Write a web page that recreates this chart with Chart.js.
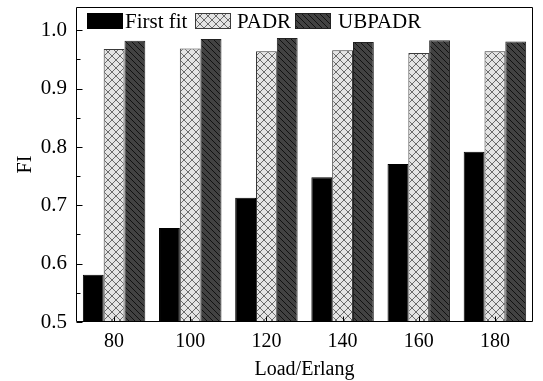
<!DOCTYPE html>
<html>
<head>
<meta charset="utf-8">
<script src="https://cdn.jsdelivr.net/npm/chart.js@4.4.0/dist/chart.umd.min.js"></script>
<style>
  body { margin: 0; background: #fff; }
  #wrap { width: 543px; height: 381px; position: relative; }
</style>
</head>
<body>
<div id="wrap"><canvas id="myChart"></canvas></div>
<script>
// data
const loads = ["80", "100", "120", "140", "160", "180"];
const firstFit = [0.581, 0.661, 0.713, 0.748, 0.771, 0.792];
const padr = [0.968, 0.969, 0.964, 0.966, 0.961, 0.964];
const ubpadr = [0.982, 0.985, 0.987, 0.980, 0.983, 0.981];
const yTicks = [0.5, 0.6, 0.7, 0.8, 0.9, 1.0];

const serif = "'Liberation Serif', 'Times New Roman', serif";

// hatch patterns
const makePattern = (size, draw) => {
  const c = document.createElement("canvas");
  c.width = size;
  c.height = size;
  const g = c.getContext("2d");
  draw(g, size);
  return g.createPattern(c, "repeat");
};

const crossHatch = makePattern(8, (g, s) => {
  g.fillStyle = "#e4e4e4";
  g.fillRect(0, 0, s, s);
  g.strokeStyle = "#4a4a4a";
  g.lineWidth = 0.8;
  g.beginPath();
  g.moveTo(-1, -1); g.lineTo(s + 1, s + 1);
  g.moveTo(-1, s + 1); g.lineTo(s + 1, -1);
  g.stroke();
});

const backHatch = makePattern(6, (g, s) => {
  g.fillStyle = "#424242";
  g.fillRect(0, 0, s, s);
  g.strokeStyle = "#111";
  g.lineWidth = 1;
  g.beginPath();
  g.moveTo(-1, -1); g.lineTo(s + 1, s + 1);
  g.moveTo(-1, s - 1); g.lineTo(1, s + 1);
  g.moveTo(s - 1, -1); g.lineTo(s + 1, 1);
  g.stroke();
});

// legend layout inside the plot (box x, text x)
const legendBoxX = [87, 195, 295];
const legendTextX = [125, 237, 338];

// frame, inward ticks and legend drawn over the plot
const framePlugin = {
  id: "frame",
  afterDatasetsDraw(chart) {
    const { ctx, chartArea: a, scales } = chart;
    ctx.save();
    ctx.strokeStyle = "#000";
    ctx.lineWidth = 1;
    ctx.beginPath();
    const L = Math.round(a.left) + 0.5, R = Math.round(a.right) - 0.5;
    const T = Math.round(a.top) + 0.5, B = Math.round(a.bottom) - 0.5;
    ctx.rect(L, T, R - L, B - T);
    // y ticks, major and minor
    for (let v = 0.5; v <= 1.04; v += 0.05) {
      const y = Math.round(scales.y.getPixelForValue(v)) + 0.5;
      const major = Math.abs(v * 10 - Math.round(v * 10)) < 0.01;
      ctx.moveTo(L, y);
      ctx.lineTo(L + (major ? 6 : 4), y);
    }
    // x ticks
    loads.forEach((_, i) => {
      const x = Math.round(scales.x.getPixelForValue(i)) + 0.5;
      ctx.moveTo(x, B);
      ctx.lineTo(x, B - 5);
    });
    ctx.stroke();

    // legend
    ctx.font = "21px " + serif;
    ctx.textBaseline = "middle";
    chart.data.datasets.forEach((ds, i) => {
      const bx = legendBoxX[i];
      ctx.fillStyle = ds.backgroundColor;
      ctx.fillRect(bx, 13, 36, 16);
      ctx.strokeStyle = ds.borderColor;
      ctx.strokeRect(bx + 0.5, 13.5, 35, 15);
      ctx.fillStyle = "#000";
      ctx.fillText(ds.label, legendTextX[i], 22);
    });
    ctx.restore();
  },
};

const ctx = document.getElementById("myChart");

new Chart(ctx, {
  type: "bar",
  data: {
    labels: loads,
    datasets: [
      {
        label: "First fit",
        data: firstFit,
        backgroundColor: "#000",
        borderColor: "#000",
        borderWidth: 1,
      },
      {
        label: "PADR",
        data: padr,
        backgroundColor: crossHatch,
        borderColor: "#3a3a3a",
        borderWidth: 1,
      },
      {
        label: "UBPADR",
        data: ubpadr,
        backgroundColor: backHatch,
        borderColor: "#222",
        borderWidth: 1,
      },
    ],
  },
  options: {
    responsive: true,
    maintainAspectRatio: false,
    animation: false,
    events: [],
    layout: { padding: { left: 0, top: 7, right: 10, bottom: 0 } },
    datasets: {
      bar: { categoryPercentage: 0.82, barPercentage: 1 },
    },
    plugins: {
      legend: { display: false },
      tooltip: { enabled: false },
    },
    scales: {
      x: {
        grid: { display: false, drawTicks: false },
        border: { display: false },
        ticks: {
          color: "#000",
          padding: 8,
          font: { family: serif, size: 20 },
        },
        title: {
          display: true,
          text: "Load/Erlang",
          color: "#000",
          font: { family: serif, size: 20, lineHeight: 1 },
          padding: { top: 0, bottom: 1 },
        },
        afterFit: (s) => {
          s.height = 59;
          s.paddingLeft = 0;
          s.paddingRight = 0;
        },
      },
      y: {
        min: 0.5,
        max: 1.04,
        grid: { display: false, drawTicks: false },
        border: { display: false },
        afterBuildTicks: (s) => { s.ticks = yTicks.map((v) => ({ value: v })); },
        ticks: {
          color: "#000",
          padding: 9,
          font: { family: serif, size: 21 },
          callback: (v) => Number(v).toFixed(1),
        },
        title: {
          display: true,
          text: "FI",
          color: "#000",
          font: { family: serif, size: 20, lineHeight: 1 },
          padding: { top: 16, bottom: 0 },
        },
        afterFit: (s) => {
          s.width = 76;
          s.paddingTop = 0;
          s.paddingBottom = 0;
        },
      },
    },
  },
  plugins: [framePlugin],
});
</script>
</body>
</html>
